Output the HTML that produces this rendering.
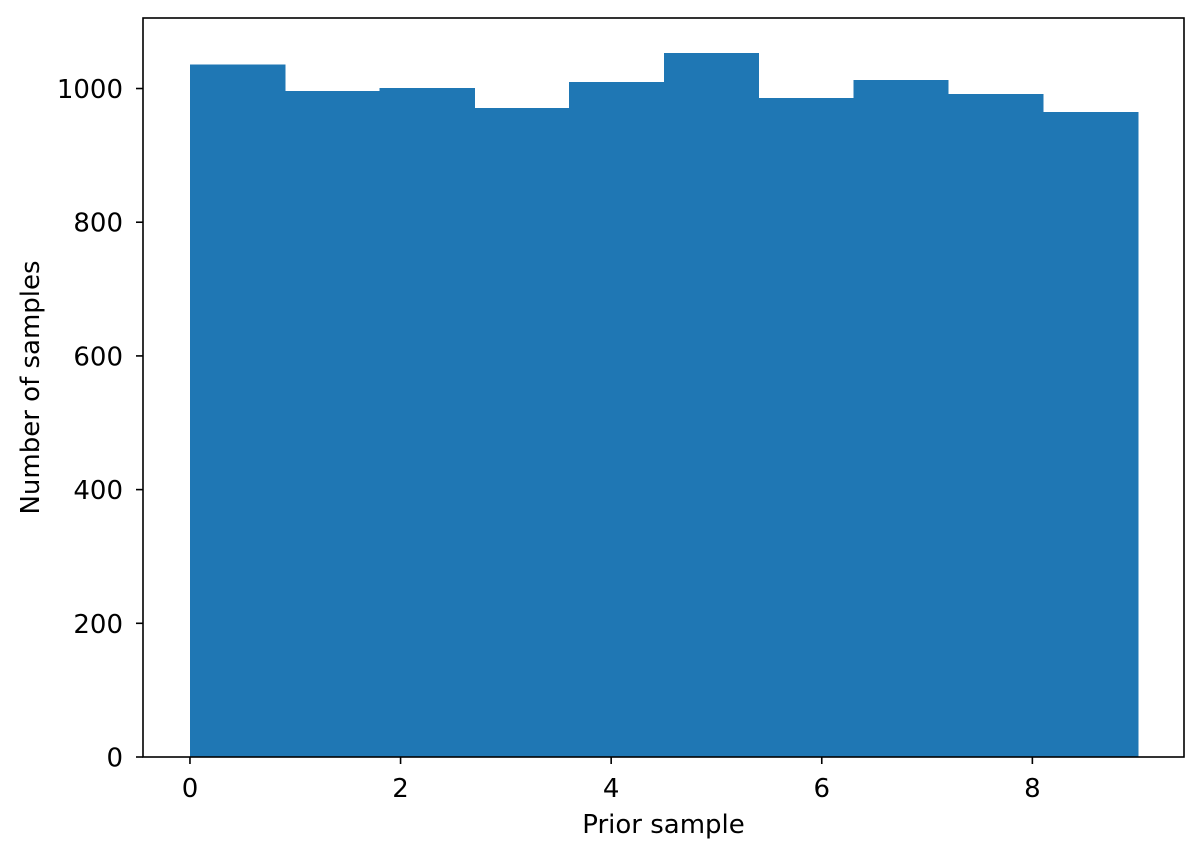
<!DOCTYPE html>
<html><head><meta charset="utf-8"><style>
html,body{margin:0;padding:0;background:#fff;}
svg text{font-family:"DejaVu Sans","Liberation Sans",sans-serif;fill:#000;}
</style></head><body>
<svg id="chart" width="1203" height="858" xmlns="http://www.w3.org/2000/svg">
<g id="bars"></g>
<g id="axes"></g>
</svg>
<script>
const binEdges = [0, 0.9, 1.8, 2.7, 3.6, 4.5, 5.4, 6.3, 7.2, 8.1, 9.0];
const counts = [1036, 996, 1001, 971, 1010, 1053, 986, 1013, 992, 965];
const xTicks = [0, 2, 4, 6, 8];
const yTicks = [0, 200, 400, 600, 800, 1000];

const L = 143, R = 1184, T = 18, B = 757;
const xMin = -0.446, xMax = 9.44, yMin = 0, yMax = 1105.5;
const xs = v => L + (v - xMin) / (xMax - xMin) * (R - L);
const ys = v => B - (v - yMin) / (yMax - yMin) * (B - T);
const NS = "http://www.w3.org/2000/svg";
const bars = document.getElementById('bars');
const axes = document.getElementById('axes');
function mk(tag, attrs, parent) {
  const e = document.createElementNS(NS, tag);
  for (const k in attrs) e.setAttribute(k, attrs[k]);
  parent.appendChild(e);
  return e;
}
counts.forEach((c, i) => {
  const x0 = xs(binEdges[i]), x1 = xs(binEdges[i + 1]);
  const r = mk('rect', {x: x0, y: ys(c), width: x1 - x0 + 0.6, height: ys(0) - ys(c), fill: '#1f77b4', 'shape-rendering': 'crispEdges'}, bars);
  
  
});
const frame = mk('rect', {x: L, y: T, width: R - L, height: B - T, fill: 'none', stroke: '#000', 'stroke-width': 1.6}, axes);


xTicks.forEach(v => {
  const x = xs(v);
  mk('line', {x1: x, x2: x, y1: B, y2: B + 7, stroke: '#000', 'stroke-width': 1.6}, axes);
  const t = mk('text', {x: x, y: 797, 'font-size': 26, 'text-anchor': 'middle'}, axes);
  t.textContent = v;
  
  
});
yTicks.forEach(v => {
  const y = ys(v);
  mk('line', {x1: L - 7, x2: L, y1: y, y2: y, stroke: '#000', 'stroke-width': 1.6}, axes);
  const t = mk('text', {x: 123, y: y + 9.5, 'font-size': 26, 'text-anchor': 'end'}, axes);
  t.textContent = v;
  
  
});
const xt = mk('text', {x: (L + R) / 2, y: 833, 'font-size': 26, 'text-anchor': 'middle'}, axes);
xt.textContent = 'Prior sample';


const yt = mk('text', {x: 39, y: (T + B) / 2, 'font-size': 26, 'text-anchor': 'middle', transform: 'rotate(-90 39 ' + (T + B) / 2 + ')'}, axes);
yt.textContent = 'Number of samples';


</script>
</body></html>
